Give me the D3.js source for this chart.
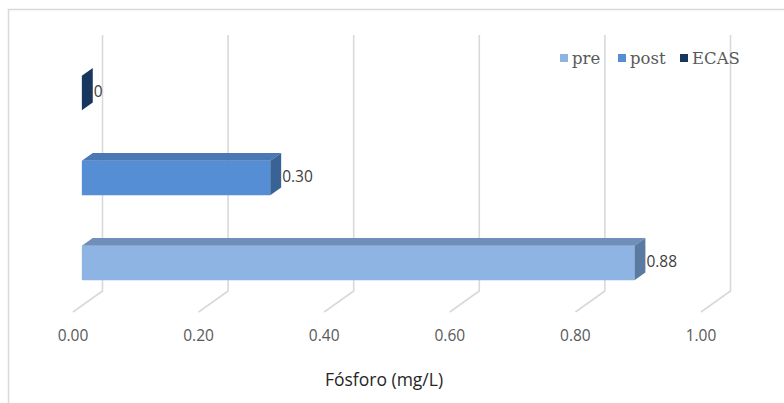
<!DOCTYPE html>
<html>
<head>
<meta charset="utf-8">
<script src="https://cdn.jsdelivr.net/npm/d3@7"></script>
<style>
  body { margin: 0; background: #fff; }
  svg { display: block; }
  .tick-label { font-family: "Open Sans", sans-serif; font-size: 15.5px; fill: #595959; }
  .data-label { font-family: "Open Sans", sans-serif; font-size: 15.5px; fill: #404040; }
  .axis-title { font-family: "Open Sans", sans-serif; font-size: 17.5px; fill: #262626; }
  .legend-label { font-family: "DejaVu Serif", serif; font-size: 16.5px; fill: #595959; }
</style>
</head>
<body>
<svg id="chart"></svg>
<script>
// data
const categories = ['ECAS', 'post', 'pre'];
const values     = [0, 0.30, 0.88];
const valueLabels = ['0', '0.30', '0.88'];
const xTicks     = [0, 0.2, 0.4, 0.6, 0.8, 1.0];
const xTitle     = 'Fósforo (mg/L)';
const legendOrder = ['pre', 'post', 'ECAS'];

const faceColors = {
  pre:  { front: '#8db4e2', top: '#6f8fba', side: '#5a7aa1' },
  post: { front: '#558ed5', top: '#4a78b5', side: '#3a6395' },
  ECAS: { front: '#17375e', top: '#132e50', side: '#10284a' }
};

const W = 784, H = 403;
const svg = d3.select('#chart').attr('width', W).attr('height', H);

// outer chart border (right/bottom fall outside the crop)
svg.append('rect')
  .attr('x', 8.5).attr('y', 9.5)
  .attr('width', W + 10).attr('height', H + 10)
  .attr('fill', 'none')
  .attr('stroke', '#d9d9d9')
  .attr('stroke-width', 1.5);

// 3d projection: depth offset of the back wall
const wallDX = 29.5, wallDY = -21;
const zFront = 0.30, zBack = 0.67;   // bar placement inside depth
const floorY = 312, wallTop = 35;

const x = d3.scaleLinear().domain([0, 1]).range([73, 701]);
const y = d3.scaleBand()
  .domain(categories)
  .range([50.5, 305.5])
  .paddingInner(0.594)
  .paddingOuter(0.297);

// gridlines: back wall verticals + floor diagonals
const grid = svg.append('g')
  .attr('fill', 'none')
  .attr('stroke', '#d9d9d9')
  .attr('stroke-width', 1.6);

grid.selectAll('path')
  .data(xTicks)
  .join('path')
  .attr('d', d => {
    const bx = x(d) + wallDX;
    return `M${bx},${wallTop} L${bx},${floorY + wallDY} L${x(d)},${floorY}`;
  });

// tick labels
svg.append('g').selectAll('text')
  .data(xTicks)
  .join('text')
  .attr('class', 'tick-label')
  .attr('x', d => x(d))
  .attr('y', 341)
  .attr('text-anchor', 'middle')
  .text(d3.format('.2f'));

svg.append('text')
  .attr('class', 'axis-title')
  .attr('x', 384)
  .attr('y', 386)
  .attr('text-anchor', 'middle')
  .text(xTitle);

// bars
const bars = categories.map((c, i) => ({ cat: c, value: values[i], label: valueLabels[i] }));
const fdx = wallDX * zFront;
const ddx = wallDX * (zBack - zFront), ddy = wallDY * (zBack - zFront);

const barG = svg.append('g')
  .selectAll('g')
  .data(bars)
  .join('g');

// front face
barG.append('rect')
  .attr('x', d => x(0) + fdx)
  .attr('y', d => y(d.cat))
  .attr('width', d => x(d.value) - x(0))
  .attr('height', y.bandwidth())
  .attr('fill', d => faceColors[d.cat].front);

// top face
barG.append('path')
  .attr('d', d => {
    const x0 = x(0) + fdx, x1 = x(d.value) + fdx, t = y(d.cat);
    return `M${x0},${t} L${x0 + ddx},${t + ddy} L${x1 + ddx},${t + ddy} L${x1},${t} Z`;
  })
  .attr('fill', d => faceColors[d.cat].top);

// right (end) face
barG.append('path')
  .attr('d', d => {
    const x1 = x(d.value) + fdx, t = y(d.cat), b = t + y.bandwidth();
    return `M${x1},${t} L${x1 + ddx},${t + ddy} L${x1 + ddx},${b + ddy} L${x1},${b} Z`;
  })
  .attr('fill', d => d.value === 0 ? faceColors[d.cat].front : faceColors[d.cat].side);

// data labels
barG.append('text')
  .attr('class', 'data-label')
  .attr('x', d => x(d.value) + fdx + ddx + 1)
  .attr('y', d => y(d.cat) + y.bandwidth() / 2 - 1)
  .attr('dy', '0.35em')
  .text(d => d.label);

// legend
const legendX = [560, 618, 680];
const legend = svg.append('g')
  .selectAll('g')
  .data(legendOrder)
  .join('g')
  .attr('transform', (d, i) => `translate(${legendX[i]},54)`);

legend.append('rect')
  .attr('width', 8).attr('height', 8)
  .attr('fill', d => faceColors[d].front);

legend.append('text')
  .attr('class', 'legend-label')
  .attr('x', 12)
  .attr('y', 4)
  .attr('dy', '0.35em')
  .text(d => d);
</script>
</body>
</html>
